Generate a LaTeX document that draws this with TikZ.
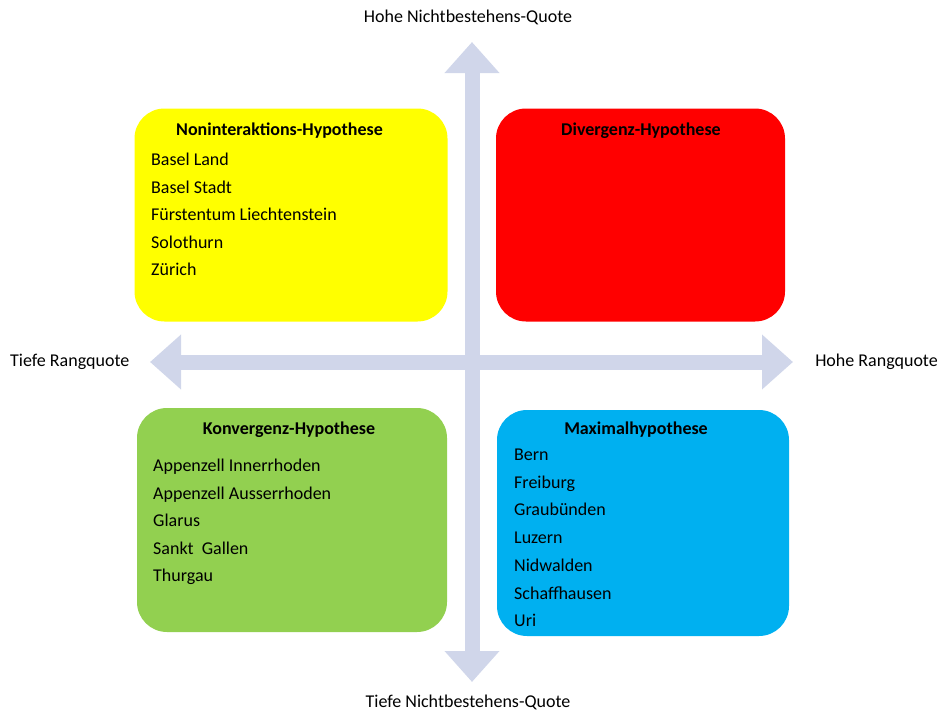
\documentclass[tikz,border=0pt]{standalone}
\usepackage{fontspec}
\setmainfont{Carlito}
\usepackage{xcolor}
\usetikzlibrary{arrows.meta,positioning}
\definecolor{achse}{RGB}{208,214,234}
\definecolor{gelb}{RGB}{255,255,0}
\definecolor{rot}{RGB}{255,0,0}
\definecolor{gruen}{RGB}{146,208,80}
\definecolor{blau}{RGB}{0,176,240}

\begin{document}
\begin{tikzpicture}[x=1pt,y=-1pt,
    feld/.style={rounded corners=30pt,inner sep=0pt,minimum width=#1},
    titel/.style={font=\fontsize{18}{21}\selectfont\bfseries,inner sep=0pt},
    eintrag/.style={font=\fontsize{18}{21}\selectfont,anchor=west,inner sep=0pt,text height=13pt,text depth=4pt},
    achsenlabel/.style={font=\fontsize{18}{21}\selectfont,inner sep=0pt},
    pfeil/.style={achse,line width=15pt,{Triangle[width=53pt,length=31pt]}-{Triangle[width=53pt,length=31pt]}}]
  \useasboundingbox (0,0) rectangle (940,712);
  % Felder
  \node[feld=313pt,fill=gelb,minimum height=213pt] (nonint) at (291,215) {};
  \node[feld=289pt,fill=rot,minimum height=213pt] (diverg) at (640.5,215) {};
  \node[feld=310pt,fill=gruen,minimum height=224pt] (konverg) at (292,520) {};
  \node[feld=292pt,fill=blau,minimum height=226pt] (maximal) at (643,523) {};
  % Achsen
  \coordinate (oben) at (472,42);
  \coordinate (unten) at (472,682);
  \coordinate (links) at (150,362);
  \coordinate (rechts) at (793,362);
  \draw[pfeil] (links) -- (rechts);
  \draw[pfeil] (unten) -- (oben);
  \node[achsenlabel] (hohenb) at (468,17) {Hohe Nichtbestehens-Quote};
  \node[achsenlabel] (tiefenb) at (468,702) {Tiefe Nichtbestehens-Quote};
  \node[achsenlabel,anchor=west] (tieferq) at (10,362) {Tiefe Rangquote};
  \node[achsenlabel,anchor=east] (hoherq) at (938,362) {Hohe Rangquote};
  % Titel
  \node[titel] (t1) at (279.5,131) {Noninteraktions-Hypothese};
  \node[titel] (t2) at (641,131) {Divergenz-Hypothese};
  \node[titel] (t3) at (289,430) {Konvergenz-Hypothese};
  \node[titel] (t4) at (636,430) {Maximalhypothese};
  % Kantone
  \foreach \name [count=\i] in {Basel Land,Basel Stadt,Fürstentum Liechtenstein,Solothurn,Zürich}
    \node[eintrag] (nh\i) at (151,{161+27.6*(\i-1)}) {\name};
  \foreach \name [count=\i] in {Appenzell Innerrhoden,Appenzell Ausserrhoden,Glarus,Sankt~~Gallen,Thurgau}
    \node[eintrag] (kh\i) at (153,{467+27.5*(\i-1)}) {\name};
  \foreach \name [count=\i] in {Bern,Freiburg,Graubünden,Luzern,Nidwalden,Schaffhausen,Uri}
    \node[eintrag] (mh\i) at (514,{456+27.7*(\i-1)}) {\name};
\end{tikzpicture}
\end{document}
